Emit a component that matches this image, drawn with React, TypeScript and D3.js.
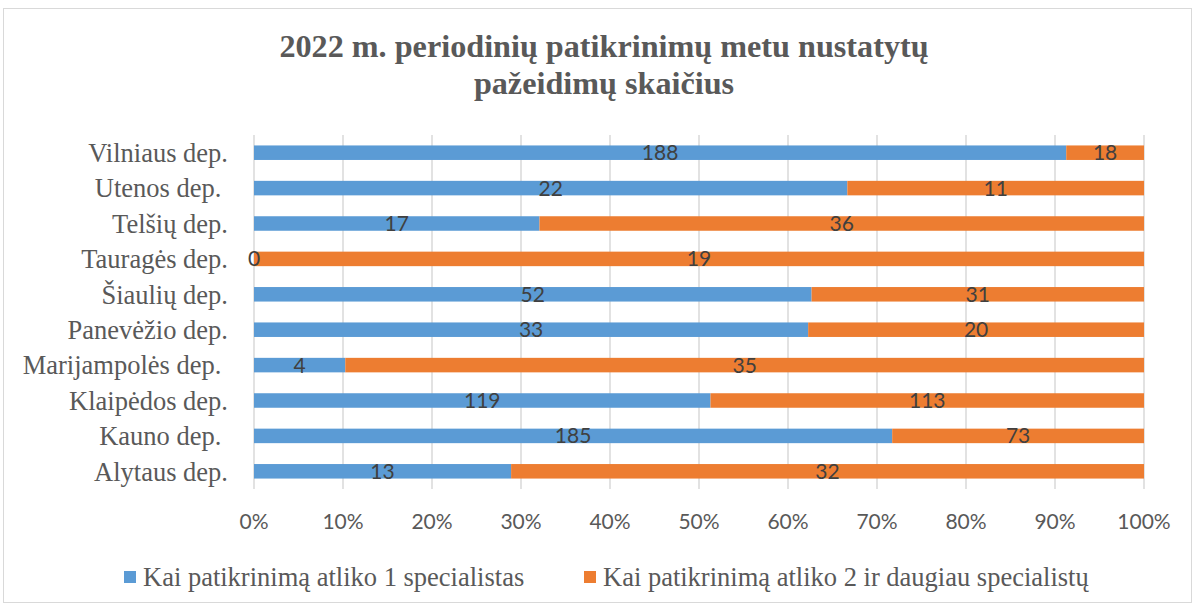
import * as d3 from "d3";

const categories = [
  "Vilniaus dep.",
  "Utenos dep. ",
  "Telšių dep.",
  "Tauragės dep.",
  "Šiaulių dep.",
  "Panevėžio dep.",
  "Marijampolės dep. ",
  "Klaipėdos dep.",
  "Kauno dep. ",
  "Alytaus dep.",
];
const oneSpecialist = [188, 22, 17, 0, 52, 33, 4, 119, 185, 13];
const twoOrMore = [18, 11, 36, 19, 31, 20, 35, 113, 73, 32];
const seriesNames = [
  "Kai patikrinimą atliko 1 specialistas",
  "Kai patikrinimą atliko 2 ir daugiau specialistų",
];
const colors = ["#5B9BD5", "#ED7D31"];
const ticks = [0, 0.1, 0.2, 0.3, 0.4, 0.5, 0.6, 0.7, 0.8, 0.9, 1];

const width = 1195;
const height = 606;
const marginLeft = 254;
const marginRight = 51;
const marginTop = 135;
const marginBottom = 117;

const sans = "Lato, 'Open Sans', sans-serif";
const serif = "'Liberation Serif', 'Times New Roman', serif";

export default function App() {
  const x = d3.scaleLinear([0, 1], [marginLeft, width - marginRight]);
  const y = d3
    .scaleBand<string>()
    .domain(categories)
    .range([marginTop, height - marginBottom])
    .paddingInner(0.59)
    .paddingOuter(0.295);

  const rows = categories.map((c, i) => {
    const total = oneSpecialist[i] + twoOrMore[i];
    const p1 = oneSpecialist[i] / total;
    return { c, a: oneSpecialist[i], b: twoOrMore[i], p1 };
  });

  const fmt = d3.format(".0%");

  return (
    <div style={{ position: "absolute", left: 0, top: 0 }}>
      <svg width={width} height={height} style={{ display: "block" }}>
        <rect x={0} y={0} width={width} height={height} fill="white" />
        <rect x={3.5} y={8.5} width={1188} height={594} fill="white" stroke="#d9d9d9" />
        <g fontFamily={serif} fontWeight="bold" fontSize={32.2} fill="#595959" textAnchor="middle">
          <text x={604} y={57}>2022 m. periodinių patikrinimų metu nustatytų</text>
          <text x={604} y={94}>pažeidimų skaičius</text>
        </g>
        <g>
          {ticks.map((t) => (
            <line
              key={t}
              x1={x(t)}
              x2={x(t)}
              y1={marginTop}
              y2={height - marginBottom}
              stroke="#d9d9d9"
              strokeWidth={1.5}
            />
          ))}
        </g>
        <g>
          {rows.map((r) => (
            <g key={r.c}>
              <rect x={x(0)} y={y(r.c)} width={x(r.p1) - x(0)} height={y.bandwidth()} fill={colors[0]} />
              <rect x={x(r.p1)} y={y(r.c)} width={x(1) - x(r.p1)} height={y.bandwidth()} fill={colors[1]} />
            </g>
          ))}
        </g>
        <g fontFamily={sans} fontSize={21} fill="#404040" textAnchor="middle">
          {rows.map((r) => (
            <g key={r.c}>
              <text x={(x(0) + x(r.p1)) / 2} y={(y(r.c) ?? 0) + y.bandwidth() / 2} dy="0.36em">
                {r.a}
              </text>
              <text x={(x(r.p1) + x(1)) / 2} y={(y(r.c) ?? 0) + y.bandwidth() / 2} dy="0.36em">
                {r.b}
              </text>
            </g>
          ))}
        </g>
        <g fontFamily={serif} fontSize={26.5} fill="#595959" textAnchor="end">
          {categories.map((c) => (
            <text
              key={c}
              x={228}
              y={(y(c) ?? 0) + y.bandwidth() / 2}
              dy="0.35em"
              style={{ whiteSpace: "pre" }}
            >
              {c}
            </text>
          ))}
        </g>
        <g fontFamily={sans} fontSize={21} fill="#595959" textAnchor="middle">
          {ticks.map((t) => (
            <text key={t} x={x(t)} y={521} dy="0.36em">
              {fmt(t)}
            </text>
          ))}
        </g>
        <g fontFamily={serif} fontSize={26.5} fill="#595959">
          <rect x={124} y={571} width={12} height={12} fill={colors[0]} />
          <text x={143} y={577} dy="0.35em">{seriesNames[0]}</text>
          <rect x={584} y={571} width={12} height={12} fill={colors[1]} />
          <text x={603} y={577} dy="0.35em">{seriesNames[1]}</text>
        </g>
      </svg>
    </div>
  );
}
